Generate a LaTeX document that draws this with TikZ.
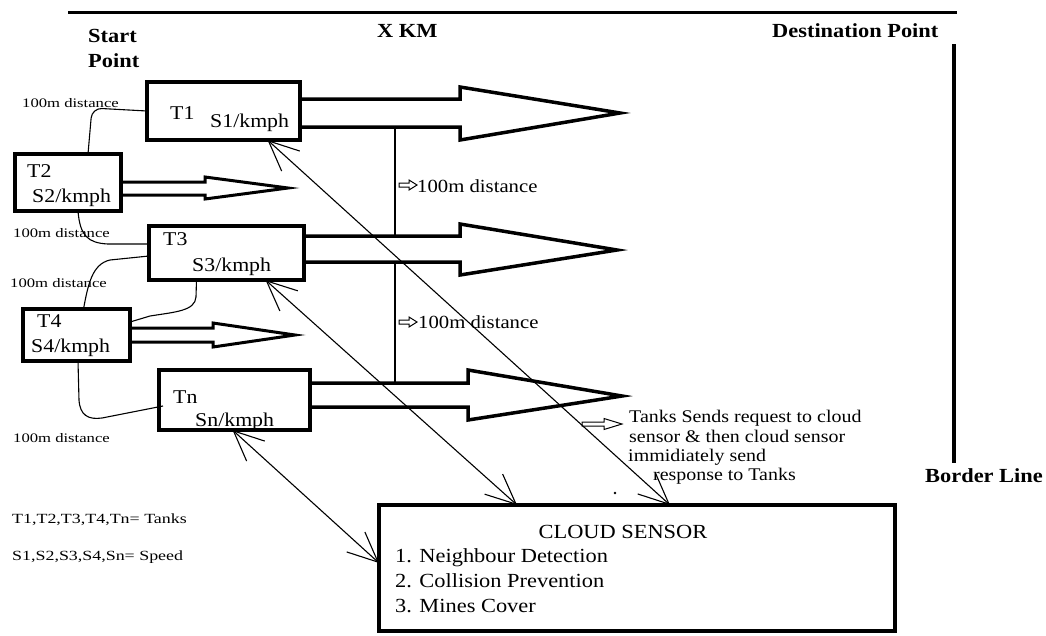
\documentclass[tikz,border=0pt]{standalone}
\usepackage{fontspec}
\setmainfont{Liberation Serif}[FakeStretch=1.12]
\newfontfamily\smallf{Liberation Serif}[FakeStretch=1.28]
\usetikzlibrary{arrows.meta,calc}
\begin{document}
\begin{tikzpicture}[x=1pt,y=-1pt,
  box/.style={draw, line width=4pt, inner sep=0pt, outer sep=0pt},
  lbl/.style={inner sep=0pt, anchor=base west, font=\fontsize{19.5}{22}\selectfont},
  smalllbl/.style={inner sep=0pt, anchor=base west, font=\smallf\fontsize{13}{15}\selectfont},
  legend/.style={inner sep=0pt, anchor=base west, font=\smallf\fontsize{14}{16}\selectfont},
  hd/.style={inner sep=0pt, anchor=base west, font=\bfseries\fontsize{20}{24}\selectfont},
  midlbl/.style={inner sep=0pt, anchor=base west, font=\fontsize{18.5}{22}\selectfont},
  notelbl/.style={inner sep=0pt, anchor=base west, font=\fontsize{17.8}{20}\selectfont},
  cloudlbl/.style={inner sep=0pt, anchor=base west, font=\fontsize{20}{24}\selectfont},
  blockarrow/.style={line width=3.5pt, line join=miter},
  smallblock/.style={line width=3pt, line join=miter},
  thinline/.style={line width=1.1pt},
  hollow/.style={line width=1pt, line join=miter},
  link/.style={line width=1.1pt,
    {Straight Barb[length=30pt,width=27pt,line width=1.1pt]}-{Straight Barb[length=30pt,width=27pt,line width=1.1pt]}}
]
\fill[white] (0,0) rectangle (1046,635);
\useasboundingbox (0,0) rectangle (1046,635);

% border lines
\draw[line width=3.5pt] (68,12.5) -- (957,12.5);
\draw[line width=4pt] (954,44) -- (954,463);

% headings
\node[hd] (startA) at (88,42) {Start};
\node[hd] (startB) at (88,67) {Point};
\node[hd] (xkm) at (377,37) {X KM};
\node[hd] (dest) at (772,37) {Destination Point};
\node[hd] (border) at (925,482) {Border Line};

% tank boxes
\node[box, minimum width=153pt, minimum height=58pt] (T1) at (223.5,111) {};
\node[box, minimum width=106pt, minimum height=57pt] (T2) at (68,182.5) {};
\node[box, minimum width=155pt, minimum height=54pt] (T3) at (226.5,253) {};
\node[box, minimum width=107pt, minimum height=52pt] (T4) at (76.5,335) {};
\node[box, minimum width=151pt, minimum height=60pt] (Tn) at (234.5,400) {};
\node[box, minimum width=516pt, minimum height=126pt] (cloud) at (637,568) {};

% tank labels
\node[lbl] (t1a) at (170,119) {T1};
\node[lbl] (t1b) at (210,127) {S1/kmph};
\node[lbl] (t2a) at (27,177) {T2};
\node[lbl] (t2b) at (32,202) {S2/kmph};
\node[lbl] (t3a) at (163,245) {T3};
\node[lbl] (t3b) at (192,271) {S3/kmph};
\node[lbl] (t4a) at (37,327) {T4};
\node[lbl] (t4b) at (31,352) {S4/kmph};
\node[lbl] (tna) at (173,403) {Tn};
\node[lbl] (tnb) at (195,426) {Sn/kmph};

% block arrows
\draw[blockarrow] ($(T1.east)+(0,-12)$) -- (460,99) -- (460,87) -- (620,113) -- (460,140) -- (460,127) -- ($(T1.east)+(0,16)$);
\draw[blockarrow] ($(T3.east)+(0,-17)$) -- (460,236) -- (460,224) -- (617,250) -- (460,275) -- (460,262) -- ($(T3.east)+(0,9)$);
\draw[blockarrow] ($(Tn.east)+(0,-17)$) -- (468,383) -- (468,370) -- (622,396) -- (468,420) -- (468,407) -- ($(Tn.east)+(0,7)$);
\draw[smallblock] ($(T2.east)+(0,-0.5)$) -- (205,182) -- (205,177) -- (288,188) -- (205,199) -- (205,195) -- ($(T2.east)+(0,12.5)$);
\draw[smallblock] ($(T4.east)+(0,-7)$) -- (213,328) -- (213,323) -- (295,335) -- (213,347) -- (213,342) -- ($(T4.east)+(0,7)$);

% vertical spacing lines
\draw[thinline] (395,127) -- (395,236);
\draw[thinline] (395,262) -- (395,383);
\draw[hollow] (399,183) -- (409,183) -- (409,180) -- (417,185) -- (409,190) -- (409,187) -- (399,187) -- cycle;
\node[midlbl] (d1) at (417,192) {100m distance};
\draw[hollow] (399,320) -- (409,320) -- (409,317) -- (417,322) -- (409,327) -- (409,324) -- (399,324) -- cycle;
\node[midlbl] (d2) at (418,328) {100m distance};

% distance connectors
\draw[thinline, rounded corners=10pt] (T1.west) -- (92,108) -- ($(T2.north)+(20,0)$);
\draw[thinline] ($(T2.south)+(10,0)$) .. controls (80,236) and (88,243) .. (108,244) -- ($(T3.west)+(0,-9)$);
\draw[thinline] ($(T3.west)+(0,3)$) -- (110,260) .. controls (92,264) and (88,285) .. ($(T4.north)+(7,0)$);
\draw[thinline] ($(T3.south)+(-30,0)$) -- (196,297) .. controls (195,311) and (175,312) .. (150,316) -- ($(T4.east)+(0,-13)$);
\draw[thinline] ($(T4.south)+(1.5,0)$) -- (79,400) .. controls (80,415) and (88,420) .. (102,418) -- ($(Tn.west)+(4,6)$);

\node[smalllbl] (l1) at (22,107) {100m distance};
\node[smalllbl] (l2) at (13,237) {100m distance};
\node[smalllbl] (l3) at (10,287) {100m distance};
\node[smalllbl] (l4) at (13,442) {100m distance};

% links to cloud sensor
\draw[link] ($(T1.south)+(44,0)$) -- ($(cloud.north)+(33,0)$);
\draw[link] ($(T3.south)+(39,0)$) -- ($(cloud.north)+(-120,0)$);
\draw[link] ($(Tn.south)+(-2,0)$) -- ($(cloud.west)+(0,-5)$);

% note
\draw[hollow] (582,422) -- (604,422) -- (604,418.5) -- (622,424) -- (604,429.5) -- (604,426) -- (582,426) -- cycle;
\node[notelbl] (n1) at (629,422) {Tanks Sends request to cloud};
\node[notelbl] (n2) at (629,442) {sensor \& then cloud sensor};
\node[notelbl] (n3) at (628,461) {immidiately send};
\node[notelbl] (n4) at (653,480) {response to Tanks};
\fill (615,493) circle (1.3pt);

% legend
\node[legend] (lg1) at (12,523) {T1,T2,T3,T4,Tn= Tanks};
\node[legend] (lg2) at (12,560) {S1,S2,S3,S4,Sn= Speed};

% cloud text
\node[inner sep=0pt, anchor=base, font=\fontsize{20}{24}\selectfont] (ct) at (623,538) {CLOUD SENSOR};
\node[cloudlbl] (c1) at (395,562) {1. Neighbour Detection};
\node[cloudlbl] (c2) at (395,587) {2. Collision Prevention};
\node[cloudlbl] (c3) at (395,612) {3. Mines Cover};
\end{tikzpicture}
\end{document}
